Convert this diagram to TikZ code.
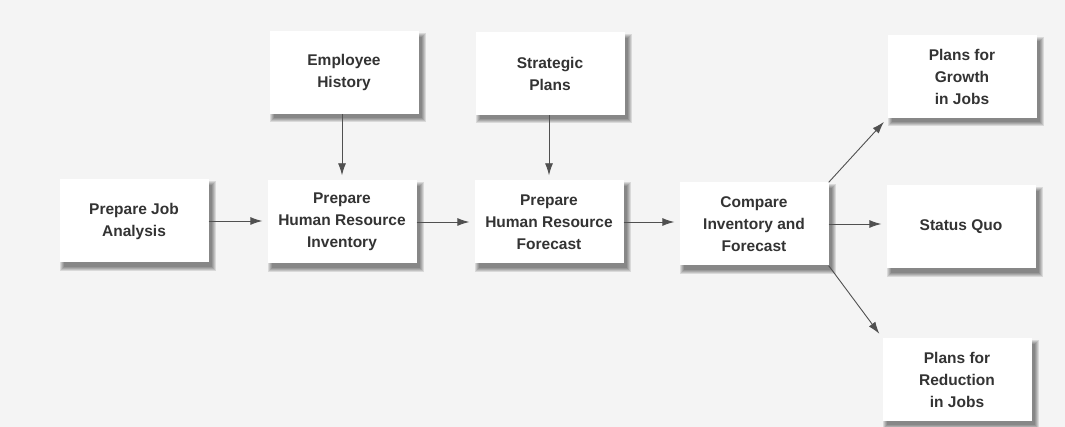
\documentclass[tikz,border=0pt]{standalone}
\usepackage{fontspec}
\setmainfont{Liberation Sans}
\usetikzlibrary{arrows.meta,calc,backgrounds}
\definecolor{bgc}{HTML}{F4F4F4}
\definecolor{txt}{HTML}{333333}
\definecolor{lnc}{HTML}{505050}
\begin{document}
\begin{tikzpicture}[x=1pt,y=-1pt,
  box/.style={fill=white, draw=none, minimum width=149pt, minimum height=83pt,
    align=center, inner sep=0pt, text=txt,
    font=\fontsize{15.5}{22}\selectfont\bfseries},
  arr/.style={draw=lnc, line width=0.9pt, -{Latex[length=12pt,width=8pt]}, shorten >=5pt}]
\begin{scope}[on background layer]
  \fill[bgc] (0,0) rectangle (1065,427);
\end{scope}
\useasboundingbox (0,0) rectangle (1065,427);

\node[box] (job)   at (134,221)   {Prepare Job\\Analysis};
\node[box] (emp)   at (344,72.5)  {Employee\\History};
\node[box] (inv)   at (342,222)   {Prepare\\Human Resource\\Inventory};
\node[box] (strat) at (550,73.5)  {Strategic\\Plans};
\node[box] (fore)  at (549,222)   {Prepare\\Human Resource\\Forecast};
\node[box] (comp)  at (754,224)   {Compare\\Inventory and\\Forecast};
\node[box] (grow)  at (962,76.5)  {Plans for\\Growth\\in Jobs};
\node[box] (quo)   at (961,227)   {Status Quo};
\node[box] (red)   at (957,379.5) {Plans for\\Reduction\\in Jobs};

\begin{scope}[on background layer]
  \foreach \n in {job,emp,inv,strat,fore,comp,grow,quo,red}{
    \foreach \r in {4,3,2,1,0}{
      \fill[black,opacity=0.11]
        ($(\n.north west)+(5-\r,6-\r)$) rectangle ($(\n.south east)+(3+\r,4+\r)$);
    }
  }
\end{scope}

\draw[arr] (job.east) -- (job.east -| inv.west);
\draw[arr] (inv.east) -- (inv.east -| fore.west);
\draw[arr] (fore.east) -- (fore.east -| comp.west);
\draw[arr] (emp.south -| inv.north) -- (inv.north);
\draw[arr] (strat.south -| fore.north) -- (fore.north);
\draw[arr] (comp.east) -- (comp.east -| quo.west);
\draw[arr] (comp.north east) -- (grow.south west);
\draw[arr] (comp.south east) -- (red.north west);
\end{tikzpicture}
\end{document}
